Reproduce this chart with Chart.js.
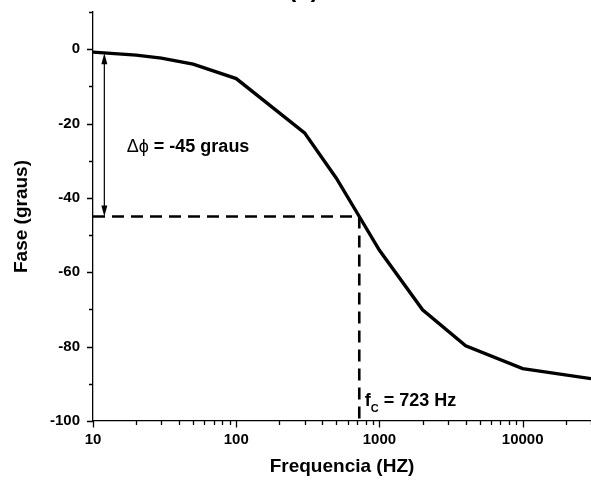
<!DOCTYPE html>
<html><head><meta charset="utf-8">
<script src="https://cdn.jsdelivr.net/npm/chart.js@4/dist/chart.umd.min.js"></script>
<style>html,body{margin:0;padding:0;background:#fff;}#wrap{width:591px;height:481px;}</style>
</head><body><div id="wrap"><canvas id="c" width="591" height="481"></canvas></div>
<script>
// ---- data ----
const freqHz   = [10, 20, 30, 50, 100, 300, 500, 723, 1000, 2000, 4000, 10000, 30000];
const phaseDeg = [-0.8, -1.6, -2.4, -4.0, -7.9, -22.5, -34.7, -45, -54.1, -70.1, -79.8, -85.9, -88.6];
const cutoffFreq = 723;
const cutoffPhase = -45;
const arrowFreq = 12;
const arrowTop = -1.1;
const xTickValues = [10,20,30,40,50,60,70,80,90,100,200,300,400,500,600,700,800,900,1000,2000,3000,4000,5000,6000,7000,8000,9000,10000,20000,30000];
const xMajorLabels = [10, 100, 1000, 10000];
const yMin = -100, yMax = 10, yStep = 10, yLabelStep = 20;
const deltaSymbol = 'Δϕ';
const deltaRest = ' = -45 graus';
const fcLabelMain = 'f';
const fcLabelSub = 'C';
const fcLabelRest = ' = 723 Hz';
const titleText = '(b)';
const xTitle = 'Frequencia (HZ)';
const yTitle = 'Fase (graus)';

const FONT = '"Liberation Sans", Arial, sans-serif';

const curve = freqHz.map((f, i) => ({x: f, y: phaseDeg[i]}));

const annot = {
  id: 'annot',
  afterDatasetsDraw(chart) {
    const ctx = chart.ctx, xs = chart.scales.x, ys = chart.scales.y;
    ctx.save();
    // arrow
    const ax = xs.getPixelForValue(arrowFreq);
    const y1 = ys.getPixelForValue(arrowTop), y2 = ys.getPixelForValue(cutoffPhase);
    ctx.strokeStyle = '#000'; ctx.fillStyle = '#000'; ctx.lineWidth = 1.2;
    ctx.beginPath(); ctx.moveTo(ax, y1 + 6); ctx.lineTo(ax, y2 - 6); ctx.stroke();
    ctx.beginPath(); ctx.moveTo(ax, y1); ctx.lineTo(ax - 3, y1 + 11); ctx.lineTo(ax + 3, y1 + 11); ctx.closePath(); ctx.fill();
    ctx.beginPath(); ctx.moveTo(ax, y2); ctx.lineTo(ax - 3, y2 - 11); ctx.lineTo(ax + 3, y2 - 11); ctx.closePath(); ctx.fill();
    // texts
    ctx.textBaseline = 'middle'; ctx.textAlign = 'left';
    const dx = xs.getPixelForValue(17.2), dy = ys.getPixelForValue(-26.3);
    ctx.font = '18px ' + FONT;
    ctx.fillText(deltaSymbol, dx, dy);
    const wd = ctx.measureText(deltaSymbol).width;
    ctx.font = 'bold 18px ' + FONT;
    ctx.fillText(deltaRest, dx + wd, dy);
    const fx = xs.getPixelForValue(790), fy = ys.getPixelForValue(-94.5);
    ctx.font = 'bold 18px ' + FONT;
    ctx.fillText(fcLabelMain, fx, fy);
    const w1 = ctx.measureText(fcLabelMain).width;
    ctx.font = 'bold 11px ' + FONT;
    ctx.fillText(fcLabelSub, fx + w1, fy + 8);
    const w2 = ctx.measureText(fcLabelSub).width;
    ctx.font = 'bold 18px ' + FONT;
    ctx.fillText(fcLabelRest, fx + w1 + w2, fy);
    // title (mostly cropped at top)
    ctx.font = 'bold 24px ' + FONT; ctx.textAlign = 'center'; ctx.textBaseline = 'alphabetic';
    ctx.fillText(titleText, 303.5, -3);
    ctx.restore();
  },
  afterDraw(chart) {
    const ctx = chart.ctx, xs = chart.scales.x, ys = chart.scales.y;
    const ca = chart.chartArea;
    ctx.save();
    ctx.strokeStyle = '#000'; ctx.lineWidth = 1.3;
    ctx.beginPath();
    xTickValues.forEach(v => {
      const px = Math.round(xs.getPixelForValue(v)) + 0.5;
      const major = xMajorLabels.includes(v);
      ctx.moveTo(px, ca.bottom); ctx.lineTo(px, ca.bottom + (major ? 6.5 : 4));
    });
    for (let v = yMin; v <= yMax; v += yStep) {
      const py = Math.round(ys.getPixelForValue(v)) + 0.5;
      const major = v % yLabelStep === 0 && v <= 0;
      ctx.moveTo(ca.left, py); ctx.lineTo(ca.left - (major ? 6 : 4), py);
    }
    ctx.stroke();
    ctx.restore();
  }
};

new Chart(document.getElementById('c'), {
  type: 'line',
  data: {
    datasets: [
      { data: curve, borderColor: '#000', borderWidth: 3.4, pointRadius: 0, tension: 0, fill: false },
      { data: [{x: freqHz[0], y: cutoffPhase}, {x: cutoffFreq, y: cutoffPhase}], borderColor: '#000', borderWidth: 2.6, borderDash: [12, 7], pointRadius: 0 },
      { data: [{x: cutoffFreq, y: cutoffPhase}, {x: cutoffFreq, y: yMin}], borderColor: '#000', borderWidth: 2.6, borderDash: [12, 7], pointRadius: 0 }
    ]
  },
  options: {
    responsive: false, animation: false,
    layout: { padding: { top: 12, right: 0, left: 0, bottom: 0 } },
    plugins: { legend: { display: false }, tooltip: { enabled: false } },
    scales: {
      x: {
        type: 'logarithmic', min: 10, max: 30000,
        afterBuildTicks: s => { s.ticks = xTickValues.map(v => ({value: v})); },
        afterFit: s => { s.height = 60; s.paddingLeft = 0; s.paddingRight = 0; },
        grid: { display: true, drawOnChartArea: false, drawTicks: false },
        border: { display: true, color: '#000', width: 1.3 },
        ticks: {
          autoSkip: false, maxRotation: 0, padding: 10, color: '#000',
          font: { family: FONT, size: 15, weight: 'bold' },
          callback: v => xMajorLabels.includes(v) ? String(v) : ''
        },
        title: { display: true, text: xTitle, color: '#000', font: { family: FONT, size: 19, weight: 'bold' }, padding: { top: 0, bottom: 3 } }
      },
      y: {
        min: yMin, max: yMax,
        afterFit: s => { s.width = 93; s.paddingTop = 0; s.paddingBottom = 0; },
        grid: { display: true, drawOnChartArea: false, drawTicks: false },
        border: { display: true, color: '#000', width: 1.3 },
        ticks: {
          stepSize: yStep, padding: 13, color: '#000',
          font: { family: FONT, size: 15, weight: 'bold' },
          callback: v => (v % yLabelStep === 0 && v <= 0) ? String(v) : ''
        },
        title: { display: true, text: yTitle, color: '#000', font: { family: FONT, size: 19, weight: 'bold' }, padding: { top: 10, bottom: 0 } }
      }
    }
  },
  plugins: [annot]
});
</script>
</body></html>
